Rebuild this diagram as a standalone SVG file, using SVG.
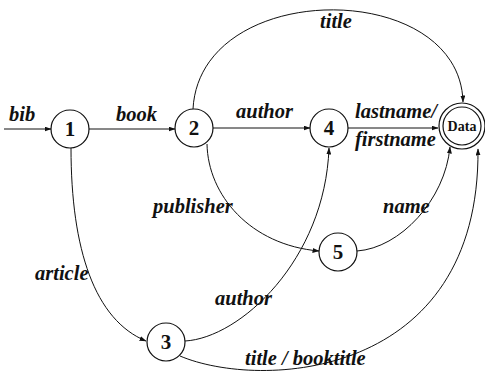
<svg xmlns="http://www.w3.org/2000/svg" width="485" height="372" viewBox="0 0 485 372">
  <defs>
    <marker id="arrow" markerWidth="7" markerHeight="5" refX="6.5" refY="2.5" orient="auto" markerUnits="userSpaceOnUse">
      <path d="M0,0 L7,2.5 L0,5 Z" fill="#111"/>
    </marker>
    <style>
      .state { fill: #fff; stroke: #111; stroke-width: 1.2; }
      .num { font-family: "Liberation Serif", "Times New Roman", serif; font-weight: bold; font-size: 21px; fill: #111; text-anchor: middle; }
      .data { font-family: "Liberation Serif", "Times New Roman", serif; font-weight: bold; font-size: 14px; fill: #111; text-anchor: middle; }
      .edge { fill: none; stroke: #111; stroke-width: 1; marker-end: url(#arrow); }
      .lbl { font-family: "Liberation Serif", "Times New Roman", serif; font-weight: bold; font-style: italic; font-size: 20.5px; fill: #111; }
    </style>
  </defs>

  <rect width="485" height="372" fill="#fff"/>

  <!-- transitions -->
  <g id="edges">
    <path class="edge" d="M4,129 L51,129"/>
    <path class="edge" d="M89,129 L175,129"/>
    <path class="edge" d="M213,128 L310,128"/>
    <path class="edge" d="M348,128 L438,128"/>
    <path class="edge" d="M193,109 C200,-22 460,-22 463,102"/>
    <path class="edge" d="M207,144 C208,195 250,245 319,251"/>
    <path class="edge" d="M71,148 C71,250 95,320 146,341"/>
    <path class="edge" d="M185,341 C240,338 325,260 329,148"/>
    <path class="edge" d="M357,251 C400,248 445,200 450,147"/>
    <path class="edge" d="M180,356 C260,390 480,380 478,149"/>
  </g>

  <!-- edge labels -->
  <g id="labels">
    <text class="lbl" x="9" y="121">bib</text>
    <text class="lbl" x="116" y="121">book</text>
    <text class="lbl" x="236" y="118">author</text>
    <text class="lbl" x="355" y="118">lastname/</text>
    <text class="lbl" x="355" y="146">firstname</text>
    <text class="lbl" x="320" y="28">title</text>
    <text class="lbl" x="153" y="213">publisher</text>
    <text class="lbl" x="383" y="213">name</text>
    <text class="lbl" x="35" y="280">article</text>
    <text class="lbl" x="215" y="305">author</text>
    <text class="lbl" x="245" y="365">title / booktitle</text>
  </g>

  <!-- states -->
  <g id="n1"><circle class="state" cx="70" cy="129" r="19"/><text class="num" x="70" y="136">1</text></g>
  <g id="n2"><circle class="state" cx="194" cy="128" r="19"/><text class="num" x="194" y="135">2</text></g>
  <g id="n4"><circle class="state" cx="329" cy="128" r="19"/><text class="num" x="329" y="135">4</text></g>
  <g id="n3"><circle class="state" cx="166" cy="342" r="19"/><text class="num" x="166" y="349">3</text></g>
  <g id="n5"><circle class="state" cx="338" cy="252" r="19"/><text class="num" x="338" y="259">5</text></g>
  <g id="data">
    <circle class="state" cx="462" cy="126" r="23"/>
    <circle class="state" cx="462" cy="126" r="19"/>
    <text class="data" x="462" y="131">Data</text>
  </g>
</svg>
